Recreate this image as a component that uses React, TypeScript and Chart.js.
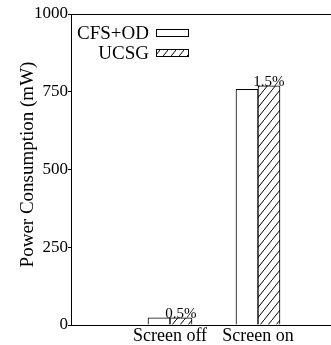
import { useEffect, useRef } from "react";
import { Chart, registerables } from "chart.js";

Chart.register(...registerables);

const categories = ["Screen off", "Screen on"];
const seriesNames = ["CFS+OD", "UCSG"];
const cfsOdValues = [23, 758];
const ucsgValues = [23.1, 769];
const improvementLabels = ["0.5%", "1.5%"];
const yTickValues = [0, 250, 500, 750, 1000];
const yTitle = "Power Consumption (mW)";

const SERIF = "'Liberation Serif', 'Times New Roman', serif";

function makeHatch(): CanvasPattern | string {
  const c = document.createElement("canvas");
  const w = 8;
  const h = 10;
  c.width = w;
  c.height = h;
  const g = c.getContext("2d");
  if (!g) return "#fff";
  g.fillStyle = "#fff";
  g.fillRect(0, 0, w, h);
  g.strokeStyle = "#000";
  g.lineWidth = 1;
  g.beginPath();
  g.moveTo(-w, 2 * h);
  g.lineTo(2 * w, -h);
  g.stroke();
  const p = g.createPattern(c, "repeat");
  return p || "#fff";
}

export default function App() {
  const ref = useRef<HTMLCanvasElement | null>(null);

  useEffect(() => {
    const canvas = ref.current;
    if (!canvas) return;
    const hatch = makeHatch();

    const overlay = {
      id: "overlay",
      afterDraw(chart: any) {
        const { ctx, chartArea } = chart;
        const { left, right, top, bottom } = chartArea;
        ctx.save();
        ctx.strokeStyle = "#000";
        ctx.lineWidth = 1;
        ctx.beginPath();
        ctx.moveTo(left, Math.round(top) + 0.5);
        ctx.lineTo(right, Math.round(top) + 0.5);
        ctx.moveTo(left, Math.round(bottom) + 0.5);
        ctx.lineTo(right, Math.round(bottom) + 0.5);
        ctx.stroke();

        ctx.save();
        ctx.translate(left - 43, (top + bottom) / 2 - 5);
        ctx.rotate(-Math.PI / 2);
        ctx.font = `19px ${SERIF}`;
        ctx.fillStyle = "#000";
        ctx.textAlign = "center";
        ctx.textBaseline = "middle";
        ctx.fillText(yTitle, 0, 0);
        ctx.restore();

        ctx.font = `19px ${SERIF}`;
        ctx.textAlign = "right";
        ctx.textBaseline = "alphabetic";
        const fills = ["#fff", hatch];
        seriesNames.forEach((name, i) => {
          const base = top + 25 + i * 20;
          ctx.fillStyle = "#000";
          ctx.fillText(name, left + 78, base);
          const bx = Math.round(left + 85) + 0.5;
          const by = Math.round(top + 15 + i * 20) + 0.5;
          ctx.fillStyle = fills[i] as any;
          ctx.fillRect(bx, by, 32, 7);
          ctx.strokeStyle = "#000";
          ctx.strokeRect(bx, by, 32, 7);
        });

        const meta = chart.getDatasetMeta(1);
        ctx.font = `15px ${SERIF}`;
        ctx.textAlign = "center";
        ctx.fillStyle = "#000";
        meta.data.forEach((bar: any, i: number) => {
          ctx.fillText(improvementLabels[i], bar.x, bar.y);
        });
        ctx.restore();
      },
    };

    const chart = new Chart(canvas, {
      type: "bar",
      data: {
        datasets: [
          {
            label: seriesNames[0],
            data: cfsOdValues.map((v, i) => ({ x: i + 1, y: v })),
            backgroundColor: "#fff",
            borderColor: "#000",
            borderWidth: 1,
            barThickness: 22,
          },
          {
            label: seriesNames[1],
            data: ucsgValues.map((v, i) => ({ x: i + 1, y: v })),
            backgroundColor: hatch as any,
            borderColor: "#000",
            borderWidth: 1,
            barThickness: 22,
          },
        ],
      },
      options: {
        animation: false,
        responsive: false,
        devicePixelRatio: 1,
        layout: { padding: { top: 14, left: 0, right: 0, bottom: 0 } },
        plugins: {
          legend: { display: false },
          tooltip: { enabled: false },
        },
        scales: {
          x: {
            type: "linear",
            offset: false,
            min: -0.125,
            max: 2.83,
            grid: { display: false, drawTicks: false, offset: false },
            border: { display: false },
            ticks: {
              color: "#000",
              font: { family: SERIF, size: 18 },
              padding: 0,
              maxRotation: 0,
              autoSkip: false,
              callback: (v: any) => categories[Number(v) - 1] ?? "",
            },
            afterBuildTicks: (scale: any) => {
              scale.ticks = categories.map((_, i) => ({ value: i + 1 }));
            },
            afterFit: (scale: any) => {
              scale.height = 20;
              scale.paddingLeft = 0;
              scale.paddingRight = 0;
            },
          },
          y: {
            min: 0,
            max: 1000,
            grid: {
              drawOnChartArea: false,
              drawTicks: true,
              tickLength: 3,
              color: "#000",
            },
            border: { display: true, color: "#000", width: 1 },
            ticks: {
              color: "#000",
              font: { family: SERIF, size: 17 },
              padding: 0,
              callback: (v: any) => String(v),
            },
            afterBuildTicks: (scale: any) => {
              scale.ticks = yTickValues.map((v) => ({ value: v }));
            },
            afterFit: (scale: any) => {
              scale.width = 71;
            },
          },
        },
      },
      plugins: [overlay],
    } as any);

    return () => chart.destroy();
  }, []);

  return (
    <div style={{ position: "fixed", left: 0, top: 0, width: 331, height: 345 }}>
      <canvas ref={ref} width={331} height={345} style={{ display: "block" }} />
    </div>
  );
}
